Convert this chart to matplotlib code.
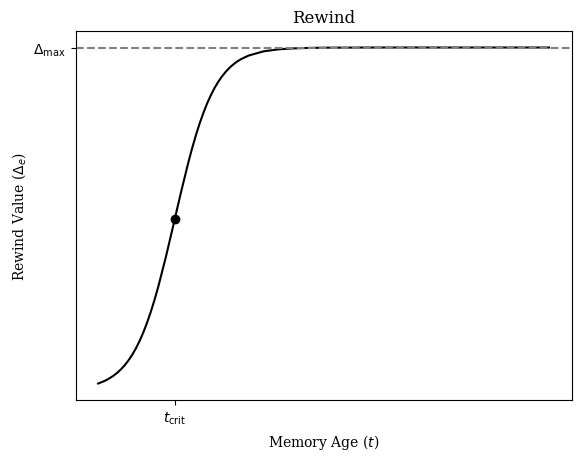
import matplotlib
matplotlib.use("Agg")
import matplotlib.pyplot as plt

# Values (Delta_max normalised to 1)
t_values = [0.00, 0.05, 0.10, 0.15, 0.20, 0.25, 0.30, 0.35, 0.40, 0.45,
            0.50, 0.55, 0.60, 0.65, 0.70, 0.75, 0.80, 0.90, 1.00, 1.02,
            1.10, 1.20, 1.25, 1.30, 1.35, 1.40, 1.45, 1.50, 1.55, 1.60,
            1.65, 1.70, 1.75, 1.80, 1.85, 1.90, 2.00, 2.20, 2.40, 2.60,
            2.80, 3.00, 3.50, 4.00, 5.00, 6.00]
rewind_values = [0.0203, 0.0245, 0.0294, 0.0354, 0.0424, 0.0509, 0.0609, 0.0727, 0.0866, 0.1028,
                 0.1217, 0.1436, 0.1685, 0.1969, 0.2287, 0.2639, 0.3024, 0.3879, 0.4810, 0.5000,
                 0.5754, 0.6646, 0.7055, 0.7435, 0.7780, 0.8090, 0.8368, 0.8610, 0.8823, 0.9006,
                 0.9163, 0.9298, 0.9413, 0.9509, 0.9591, 0.9659, 0.9764, 0.9888, 0.9947, 0.9975,
                 0.9988, 0.9995, 0.9999, 1.0000, 1.0000, 1.0000]
t_crit = 1.02
value_at_crit = 0.5
delta_max = 1.0
xtick_labels = [r'$t_{\mathrm{crit}}$']
ytick_labels = [r'$\Delta_{\max}$']

fig, ax = plt.subplots(figsize=(6.4, 4.8), dpi=100)
ax.plot(t_values, rewind_values, color='black', linewidth=1.5)
ax.plot([t_crit], [value_at_crit], 'o', color='black', markersize=6)
ax.axhline(delta_max, color='gray', linestyle='--', linewidth=1.5)

ax.set_xticks([t_crit])
ax.set_xticklabels(xtick_labels)
ax.set_yticks([delta_max])
ax.set_yticklabels(ytick_labels)

ax.set_title('Rewind', family='serif')
ax.set_xlabel('Memory Age ($t$)', family='serif')
ax.set_ylabel(r'Rewind Value ($\Delta_e$)', family='serif')

fig.savefig('out.png', dpi=100, bbox_inches='tight')
